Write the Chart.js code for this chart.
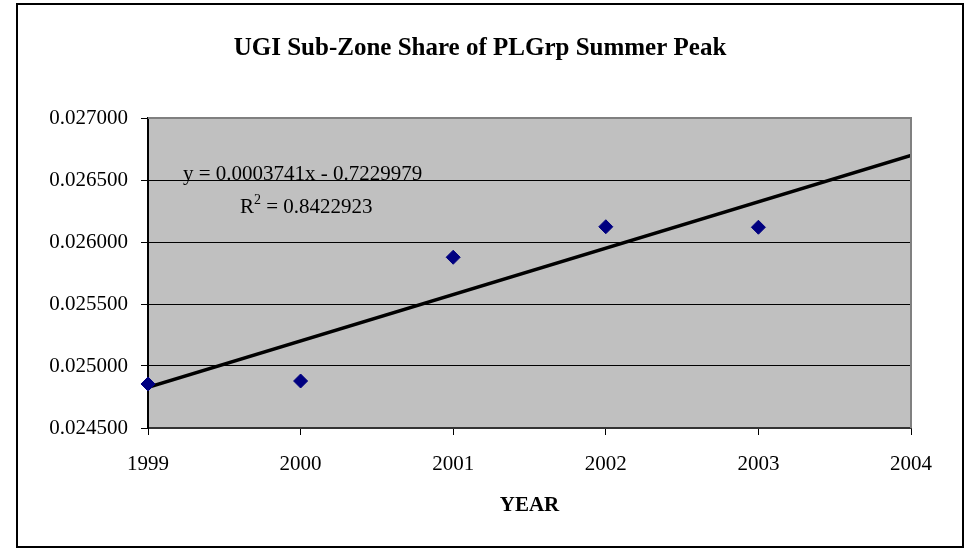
<!DOCTYPE html>
<html>
<head>
<meta charset="utf-8">
<script src="https://cdn.jsdelivr.net/npm/chart.js@4"></script>
<style>
  body { margin: 0; background: #ffffff; }
</style>
</head>
<body>
<canvas id="shareChart" width="969" height="550"></canvas>
<script>
var years = [1999, 2000, 2001, 2002, 2003];
var shareValues = [0.024855, 0.024879, 0.025877, 0.026123, 0.026119];

// trendline end points (1999 and 2004)
var trendYears = [1999, 2004];
var trendValues = [0.024828, 0.026699];

var yTicks = [0.0245, 0.025, 0.0255, 0.026, 0.0265, 0.027];
var xTicks = [1999, 2000, 2001, 2002, 2003, 2004];

var chartTitle = "UGI Sub-Zone Share of PLGrp Summer Peak";
var equationText = "y = 0.0003741x - 0.7229979";
var rSquaredText = "0.8422923";

document.addEventListener("DOMContentLoaded", function() {
  var points = years.map(function(yr, i) {
    return { x: yr, y: shareValues[i] };
  });
  var trend = trendYears.map(function(yr, i) {
    return { x: yr, y: trendValues[i] };
  });

  var excelLook = {
    id: "excelLook",
    beforeDraw: function(chart) {
      var ctx = chart.ctx;
      var a = chart.chartArea;
      ctx.save();
      ctx.fillStyle = "#ffffff";
      ctx.fillRect(0, 0, chart.width, chart.height);
      ctx.fillStyle = "#c0c0c0";
      ctx.fillRect(a.left, a.top, a.right - a.left, a.bottom - a.top);
      ctx.restore();
    },
    afterDraw: function(chart) {
      var ctx = chart.ctx;
      var a = chart.chartArea;
      ctx.save();
      // outer frame
      ctx.strokeStyle = "#000000";
      ctx.lineWidth = 2;
      ctx.strokeRect(17, 4, 946, 543);
      // grey plot frame top/right
      ctx.strokeStyle = "#808080";
      ctx.lineWidth = 2;
      ctx.beginPath();
      ctx.moveTo(a.left, a.top);
      ctx.lineTo(a.right, a.top);
      ctx.lineTo(a.right, a.bottom);
      ctx.stroke();

      ctx.fillStyle = "#000000";
      ctx.textBaseline = "alphabetic";
      ctx.textAlign = "center";
      ctx.font = "bold 25px 'Liberation Serif', 'Times New Roman', serif";
      ctx.fillText(chartTitle, 480, 55);

      ctx.textAlign = "left";
      ctx.font = "21px 'Liberation Serif', 'Times New Roman', serif";
      ctx.fillText(equationText, 183, 180);
      ctx.fillText("R", 240, 213);
      var rw = ctx.measureText("R").width;
      ctx.font = "14px 'Liberation Serif', 'Times New Roman', serif";
      ctx.fillText("2", 240 + rw, 204);
      var sw = ctx.measureText("2").width;
      ctx.font = "21px 'Liberation Serif', 'Times New Roman', serif";
      ctx.fillText(" = " + rSquaredText, 240 + rw + sw, 213);
      ctx.restore();
    }
  };

  var ctx = document.getElementById("shareChart").getContext("2d");
  new Chart(ctx, {
    type: "scatter",
    data: {
      datasets: [{
        label: "Share",
        data: points,
        backgroundColor: "#000080",
        borderColor: "#000080",
        borderWidth: 1,
        pointStyle: "rectRot",
        pointRadius: 7,
        clip: false,
        order: 1
      }, {
        label: "Trend",
        data: trend,
        type: "line",
        showLine: true,
        borderColor: "#000000",
        borderWidth: 3.5,
        pointRadius: 0,
        fill: false,
        order: 2
      }]
    },
    plugins: [excelLook],
    options: {
      responsive: false,
      animation: false,
      layout: { padding: { left: 0, right: 58, top: 118, bottom: 0 } },
      plugins: {
        legend: { display: false },
        tooltip: { enabled: false },
        title: { display: false }
      },
      scales: {
        x: {
          type: "linear",
          min: 1999,
          max: 2004,
          afterFit: function(scale) { scale.height = 122; },
          afterBuildTicks: function(scale) {
            scale.ticks = xTicks.map(function(v) { return { value: v }; });
          },
          ticks: {
            autoSkip: false,
            maxRotation: 0,
            padding: 17,
            color: "#000000",
            font: { family: "'Liberation Serif', 'Times New Roman', serif", size: 21 },
            callback: function(v) { return String(v); }
          },
          grid: {
            drawOnChartArea: false,
            drawTicks: true,
            tickLength: 7,
            color: "#000000"
          },
          border: { color: "#333333", width: 2 },
          title: {
            display: true,
            text: "YEAR",
            color: "#000000",
            padding: { top: 0, bottom: 32 },
            font: { family: "'Liberation Serif', 'Times New Roman', serif", size: 21, weight: "bold" }
          }
        },
        y: {
          min: 0.0245,
          max: 0.027,
          afterFit: function(scale) { scale.width = 148; },
          afterBuildTicks: function(scale) {
            scale.ticks = yTicks.map(function(v) { return { value: v }; });
          },
          ticks: {
            padding: 13,
            color: "#000000",
            font: { family: "'Liberation Serif', 'Times New Roman', serif", size: 21 },
            callback: function(v) { return Number(v).toFixed(6); }
          },
          grid: {
            color: "#000000",
            lineWidth: 1,
            tickLength: 7
          },
          border: { color: "#000000", width: 2 }
        }
      }
    }
  });
});
</script>
</body>
</html>
